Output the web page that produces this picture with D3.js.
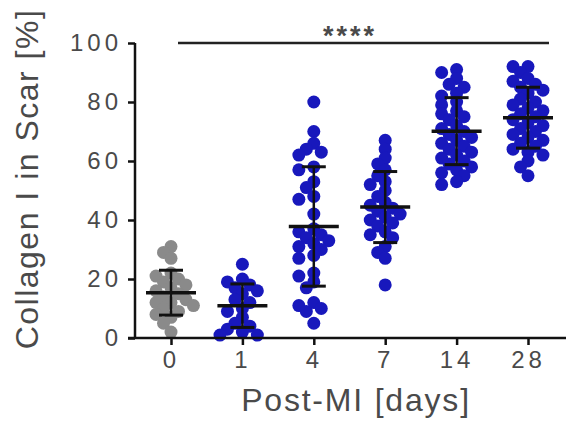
<!DOCTYPE html>
<html>
<head>
<meta charset="utf-8">
<script src="https://cdn.jsdelivr.net/npm/d3@7"></script>
<style>
  body { margin: 0; background: #fff; }
  text { font-family: "Liberation Sans", Arial, sans-serif; fill: #4a4a4a; }
</style>
</head>
<body>
<div class="dot-chart"></div>
<script>
const days = ["0", "1", "4", "7", "14", "28"];
const yTicks = [0, 20, 40, 60, 80, 100];

const day0 = [31, 29, 27, 22, 21, 20, 19, 18, 17, 16, 15, 14, 13, 12, 12, 11, 10, 9, 8, 7, 5, 2];
const day1 = [25, 20, 19, 18, 17, 16, 15, 13, 12, 10, 9, 7, 5, 4, 3, 2, 1, 1];
const day4 = [80, 70, 66, 64, 63, 62, 58, 57, 53, 51, 48, 47, 42, 37, 36, 35, 34, 33, 32, 31, 30, 28, 27, 22, 21, 19, 17, 12, 11, 10, 9, 5];
const day7 = [67, 64, 61, 59, 57, 55, 53, 52, 50, 48, 46, 45, 44, 43, 42, 41, 40, 39, 38, 36, 35, 34, 31, 29, 27, 18];
const day14 = [91, 90, 88, 86, 85, 83, 82, 80, 79, 77, 76, 75, 74, 72, 71, 70, 69, 68, 67, 66, 65, 64, 63, 62, 61, 60, 59, 58, 57, 56, 55, 53, 52];
const day28 = [92, 92, 90, 88, 87, 86, 85, 84, 83, 81, 80, 79, 78, 77, 76, 75, 74, 73, 72, 71, 70, 69, 68, 67, 66, 65, 64, 63, 62, 60, 58, 55];

const groupValues = [day0, day1, day4, day7, day14, day28];
const groupColors = ["#8a8a8a", "#1818bc", "#1818bc", "#1818bc", "#1818bc", "#1818bc"];

const width = 566, height = 421;
const radius = 6.5;

const svg = d3.select(".dot-chart")
  .append("svg")
  .attr("width", width)
  .attr("height", height);

const x = d3.scalePoint().domain(days).range([171, 528]);
const y = d3.scaleLinear().domain([0, 100]).range([338, 43]);

// beeswarm style placement like the prism scatter dot plot
const swarm = (values, cx) => {
  const placed = [];
  values.slice().sort((a, b) => b - a).forEach(v => {
    const cy = y(v);
    for (let k = 0; k < 20; k++) {
      const off = k === 0 ? 0 : Math.ceil(k / 2) * radius * 1.15 * (k % 2 ? -1 : 1);
      const px = cx + off;
      const hit = placed.some(p => Math.hypot(p.x - px, p.y - cy) < radius * 1.3);
      if (!hit) { placed.push({ x: px, y: cy, v }); break; }
    }
  });
  return placed;
}

groupValues.forEach((vals, i) => {
  const cx = x(days[i]);
  const pts = swarm(vals, cx);
  svg.append("g")
    .selectAll("circle")
    .data(pts)
    .enter()
    .append("circle")
    .attr("cx", d => d.x)
    .attr("cy", d => d.y)
    .attr("r", radius)
    .attr("fill", groupColors[i]);

  const m = d3.mean(vals), sd = d3.deviation(vals);
  const g = svg.append("g").attr("stroke", "#111").attr("stroke-width", 3);
  g.append("line").attr("x1", cx - 25).attr("x2", cx + 25).attr("y1", y(m)).attr("y2", y(m)).attr("stroke-width", 3.5);
  g.append("line").attr("x1", cx).attr("x2", cx).attr("y1", y(m - sd)).attr("y2", y(m + sd)).attr("stroke-width", 2.5);
  [m - sd, m + sd].forEach(e => {
    g.append("line").attr("x1", cx - 12).attr("x2", cx + 12).attr("y1", y(e)).attr("y2", y(e));
  });
});

// y axis
const yAxis = svg.append("g")
  .attr("transform", "translate(135,0)")
  .call(d3.axisLeft(y).tickValues(yTicks).tickSize(7).tickPadding(6));
yAxis.select(".domain").attr("stroke", "#111").attr("stroke-width", 2.5).attr("d", "M0,43V338");
yAxis.selectAll(".tick line").attr("stroke", "#111").attr("stroke-width", 2.5);
yAxis.selectAll(".tick text")
  .attr("font-size", 24)
  .attr("letter-spacing", 4)
  .attr("fill", "#4a4a4a");

// x axis
const xAxis = svg.append("g")
  .attr("transform", "translate(0,338)")
  .call(d3.axisBottom(x).tickSize(7).tickPadding(6));
xAxis.select(".domain").attr("stroke", "#111").attr("stroke-width", 2.5).attr("d", "M128,0H566");
xAxis.selectAll(".tick line").attr("stroke", "#111").attr("stroke-width", 2.5);
xAxis.selectAll(".tick text")
  .attr("font-size", 24)
  .attr("letter-spacing", 4)
  .attr("fill", "#4a4a4a");

// titles
svg.append("text")
  .attr("transform", "translate(38,179) rotate(-90)")
  .attr("text-anchor", "middle")
  .attr("font-size", 32)
  .attr("letter-spacing", 1.5)
  .text("Collagen I in Scar [%]");

svg.append("text")
  .attr("x", 356)
  .attr("y", 411)
  .attr("text-anchor", "middle")
  .attr("font-size", 32)
  .attr("letter-spacing", 1.8)
  .text("Post-MI [days]");

// significance bar
svg.append("line")
  .attr("x1", 178).attr("x2", 549)
  .attr("y1", 43).attr("y2", 43)
  .attr("stroke", "#222").attr("stroke-width", 2.5);
svg.append("text")
  .attr("x", 350).attr("y", 45)
  .attr("text-anchor", "middle")
  .attr("font-size", 27)
  .attr("font-weight", "bold")
  .attr("letter-spacing", 3)
  .attr("fill", "#333")
  .text("****");
</script>
</body>
</html>
